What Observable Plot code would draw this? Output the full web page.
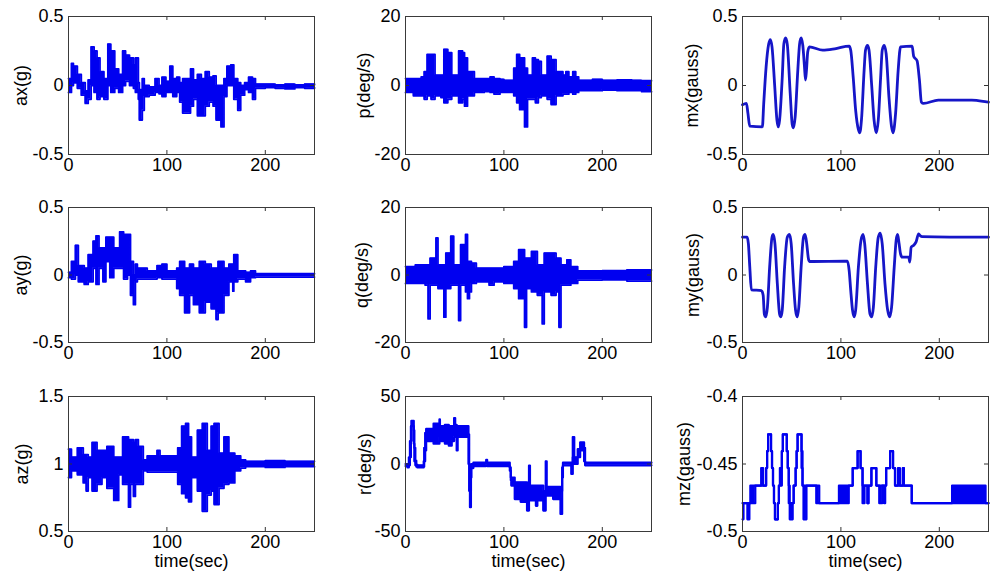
<!DOCTYPE html>
<html><head><meta charset="utf-8">
<script src="https://cdn.jsdelivr.net/npm/d3@7"></script>
<script src="https://cdn.jsdelivr.net/npm/@observablehq/plot@0.6"></script>
<style>
html,body{margin:0;padding:0;background:#fff;}
#fig{position:relative;width:1000px;height:579px;overflow:hidden;background:#fff;}
.panel{position:absolute;}
</style></head><body><div id="fig"></div>
<script>
// time axis
const xDomain = [0, 250];
const xTicks = [0, 100, 200];

// noisy signals: [time start (s), upper envelope, lower envelope]
const axData = [[0,0.05,-0.05],[3,0.16,0.0],[5,0.14,0.02],[9,0.08,-0.02],[13,0.02,-0.07],[17,-0.04,-0.13],[20,0.04,-0.1],[23,0.28,0.0],[26,0.25,-0.05],[29,0.2,-0.1],[32,0.1,-0.08],[36,0.05,-0.1],[40,0.3,0.0],[43,0.25,-0.05],[47,0.12,-0.02],[51,0.08,-0.05],[55,0.25,0.0],[58,0.22,0.03],[62,0.2,0.0],[66,0.15,-0.02],[68,0.2,-0.05],[71,0.02,-0.1],[72,-0.03,-0.25],[75,0.05,-0.18],[77,0.0,-0.08],[82,-0.01,-0.07],[88,0.05,-0.05],[92,0.0,-0.06],[95,0.06,-0.08],[99,0.03,-0.05],[103,0.14,-0.05],[106,0.05,-0.08],[110,0.06,-0.05],[113,0.02,-0.12],[116,0.05,-0.2],[120,0.05,-0.2],[124,0.12,-0.15],[127,0.04,-0.1],[131,0.08,-0.22],[135,0.05,-0.22],[139,0.1,-0.15],[143,0.06,-0.12],[147,0.07,-0.15],[150,0.0,-0.25],[155,0.0,-0.3],[158,0.05,-0.08],[161,0.14,0.0],[165,0.15,0.0],[168,0.05,-0.1],[172,0.02,-0.18],[175,0.0,-0.07],[179,0.02,-0.03],[183,0.06,-0.05],[187,0.05,-0.1],[190,0.01,-0.02],[200,0.01,-0.015],[210,0.005,-0.02],[220,0.01,-0.025],[230,0.005,-0.015],[240,0.01,-0.02],[250,0.005,-0.015]];

const pData = [[0,2,-2],[8,2,-3],[16,2.5,-3],[19,4,-4],[22,9,-3],[26,9,-4],[30,3,-3],[36,3,-3.5],[39,10.5,-5],[43,9.5,-4],[47,3,-3],[54,10,-5],[58,9.5,-4],[60,8,-6],[63,4,-3],[70,2,-2],[80,2,-1.8],[86,2.5,-2],[90,2,-2.5],[96,1.8,-2],[100,1.5,-2],[110,5,-3],[113,9,-5],[116,8,-7],[121,5,-12],[124,3,-4],[129,8,-4],[132,7.5,-5],[135,7,-3.5],[138,3,-3],[144,8.5,-4],[148,7.5,-5.5],[153,4,-3],[160,3,-2.5],[163,4,-2.5],[166,2.5,-2],[170,4,-2.5],[173,2.5,-2],[176,1.5,-1.5],[190,1.8,-1.5],[200,1.5,-1.3],[215,1.6,-1.5],[230,1.5,-1.5],[240,1.4,-1.8],[250,1.4,-1.8]];

const ayData = [[0,0.02,-0.02],[3,0.1,-0.03],[7,0.22,0.0],[10,0.07,-0.05],[16,0.05,-0.07],[20,0.15,-0.05],[25,0.25,0.05],[28,0.29,-0.07],[31,0.2,0.05],[35,0.2,-0.05],[38,0.28,0.1],[42,0.28,-0.02],[46,0.2,0.05],[52,0.32,0.05],[56,0.3,-0.03],[60,0.3,0.0],[63,0.1,-0.15],[66,0.0,-0.22],[68,0.08,-0.05],[70,0.05,-0.03],[80,0.03,-0.03],[90,0.07,-0.02],[95,0.08,-0.03],[100,0.03,-0.03],[110,0.05,-0.1],[113,0.1,-0.15],[118,0.05,-0.28],[123,0.08,-0.15],[127,0.05,-0.22],[133,0.1,-0.28],[139,0.08,-0.2],[145,0.05,-0.25],[150,0.05,-0.33],[152,0.1,-0.28],[158,0.05,-0.15],[163,0.08,-0.05],[167,0.08,-0.12],[168,0.15,-0.05],[172,0.03,-0.03],[180,0.02,-0.05],[185,0.03,-0.02],[190,0.01,-0.015],[250,0.01,-0.015]];

const qData = [[0,2.5,-2.5],[10,3,-2.5],[20,3,-3],[23,3,-13],[25,5,-3],[31,11,-3],[33,3,-4],[39,3,-12.5],[41,6.5,-4],[46,11.5,-3],[49,3,-3],[54,3,-13.5],[56,9,-3],[61,12,-5],[63,4,-7],[65,4,-5],[67,3.5,-2.5],[72,2,-2],[85,2,-3],[90,2,-2],[100,2.5,-2.5],[110,4,-4],[115,7.5,-7],[121,5,-15.5],[123,5,-4],[128,7,-5],[134,3,-6],[139,3,-14.5],[141,6.5,-5],[148,6.5,-6],[153,5,-5],[156,5,-15.5],[158,3,-3],[164,4.5,-3],[168,2.5,-2.5],[175,1.2,-1.5],[200,1.3,-1.4],[225,1.5,-1.8],[250,1.5,-1.8]];

const azData = [[0,1.11,0.9],[3,1.05,0.95],[9,1.12,0.92],[15,1.07,0.86],[18,1.07,0.8],[20,1.05,0.9],[24,1.16,0.8],[29,1.1,0.85],[34,1.1,0.9],[39,1.13,0.82],[46,1.05,0.73],[51,1.05,0.92],[55,1.2,0.85],[61,1.18,0.68],[63,1.18,0.85],[66,1.16,0.76],[68,1.18,0.85],[71,1.13,0.85],[76,1.03,0.95],[80,1.06,0.94],[90,1.1,0.94],[93,1.06,0.94],[111,1.12,0.85],[115,1.28,0.78],[119,1.3,0.75],[122,1.2,0.72],[125,1.05,0.9],[131,1.25,0.8],[136,1.3,0.65],[141,1.1,0.77],[145,1.28,0.8],[148,1.3,0.7],[153,1.08,0.82],[158,1.2,0.85],[163,1.08,0.86],[169,1.06,0.95],[175,1.03,0.97],[180,1.02,0.98],[200,1.025,0.975],[220,1.02,0.98],[250,1.02,0.98]];

const rData = [[0,0,-1.5],[2,0,-2.5],[3.4,5,-1],[4.5,17,5],[5.5,28,17],[6,32,28],[8.4,25,15],[9,12,2],[10,2.5,-1],[11,-0.5,-2],[12,-1,-2.5],[18.5,2,-2],[19,12,2],[20,23,10],[21,26,17],[28.5,30,15],[34.5,33,20],[35,28,17],[40,29,15],[44,28,13.6],[47,28,17],[49.4,34,20],[50.5,29,20],[52,28,10],[53,28,20],[64,22,0],[64.7,0,-20],[65.5,-20,-32],[66.5,-2.5,-10],[67,0,-3],[69,1,-1.5],[82,3,-1],[83,1,-1.5],[106,-2.5,-5],[107,-10,-12],[107.5,-10,-16],[111,-13.5,-26],[117,-13.5,-28],[123.5,-20,-34.5],[125.5,-1.2,-20],[126.5,-16,-27],[132.5,-16,-31],[134,-16,-27],[140,-20,-34.5],[142.5,2,-20],[143.5,-17,-23.5],[150,-17,-26],[157.5,-20,-37],[159.2,-2.5,-10],[160,1,-1],[168.5,0,-7.4],[170,20,5],[171.5,5,0],[173,5,0],[175,11,5],[177.5,16,10],[181.5,12,2],[182.5,1,-1],[250,1,-1]];

const mzData = [[0,-0.479,-0.491],[1,-0.479,-0.479],[5,-0.479,-0.491],[7,-0.479,-0.479],[8,-0.466,-0.479],[13,-0.466,-0.466],[19,-0.453,-0.466],[21,-0.466,-0.466],[24,-0.453,-0.453],[25,-0.4405,-0.4405],[26,-0.428,-0.428],[29,-0.4405,-0.4405],[30,-0.453,-0.453],[31,-0.466,-0.466],[32,-0.479,-0.479],[33,-0.491,-0.491],[36,-0.479,-0.479],[37,-0.466,-0.466],[38,-0.453,-0.466],[40,-0.4405,-0.4405],[41,-0.428,-0.428],[45,-0.4405,-0.4405],[46,-0.453,-0.453],[47,-0.466,-0.479],[48,-0.479,-0.491],[51,-0.479,-0.479],[52,-0.466,-0.466],[54,-0.453,-0.453],[55,-0.4405,-0.4405],[56,-0.428,-0.428],[60,-0.4405,-0.453],[61,-0.466,-0.466],[62,-0.466,-0.491],[65,-0.466,-0.466],[75,-0.466,-0.479],[78,-0.479,-0.479],[98,-0.466,-0.479],[108,-0.466,-0.466],[112,-0.453,-0.453],[117,-0.4405,-0.4405],[120,-0.453,-0.453],[122,-0.466,-0.479],[124,-0.466,-0.466],[127,-0.479,-0.479],[128,-0.466,-0.466],[131,-0.453,-0.453],[136,-0.466,-0.466],[139,-0.466,-0.479],[142,-0.466,-0.466],[144,-0.466,-0.479],[145,-0.466,-0.466],[146,-0.453,-0.453],[150,-0.4405,-0.4405],[153,-0.453,-0.453],[155,-0.466,-0.466],[158,-0.453,-0.466],[160,-0.466,-0.466],[163,-0.453,-0.453],[164,-0.466,-0.466],[172,-0.479,-0.479],[213,-0.466,-0.479],[247,-0.479,-0.479],[250,-0.479,-0.479]];

// smooth magnetometer signals: [time (s), value]
const mxData = [[0,-0.14],[4,-0.13],[5.5,-0.2],[7.4,-0.295],[20.2,-0.3],[21.5,-0.14],[24,0.135],[26.6,0.3],[28.3,0.333],[30,0.28],[32.7,0.0],[35,-0.25],[36.4,-0.3],[37.7,-0.25],[40.4,0.06],[42,0.3],[43.8,0.345],[45.5,0.3],[48.5,-0.06],[50.5,-0.28],[51.9,-0.307],[53.5,-0.23],[56.2,0.11],[58,0.3],[59.6,0.345],[61.3,0.29],[63,0.135],[64,0.04],[65,0.11],[66.3,0.244],[68,0.28],[81.5,0.256],[95,0.268],[108.4,0.285],[110,0.256],[112.5,0.06],[115,-0.18],[117.8,-0.32],[119.2,-0.343],[120.9,-0.25],[123.6,0.11],[125,0.256],[127,0.29],[128.6,0.256],[131.3,0.0],[133.7,-0.25],[136,-0.343],[138,-0.25],[140.4,0.06],[142,0.256],[144,0.29],[146,0.23],[148.8,-0.08],[151.5,-0.3],[153,-0.343],[155.6,-0.2],[158.2,0.11],[160.6,0.28],[172.4,0.285],[174,0.21],[177.4,0.18],[179.8,0.04],[181.8,-0.12],[184,-0.13],[199,-0.106],[233,-0.106],[248,-0.118],[250,-0.12]];

const myData = [[0,0.28],[4.7,0.28],[6,0.23],[7.4,0.06],[9,-0.11],[19.2,-0.115],[21,-0.15],[22.2,-0.29],[23.6,-0.31],[25.3,-0.24],[27.6,0.06],[30,0.28],[31.3,0.3],[33,0.23],[35.4,-0.065],[37.7,-0.29],[39,-0.31],[40.4,-0.26],[42.8,0.06],[45.5,0.28],[47.8,0.3],[49.5,0.23],[51.9,-0.065],[53.9,-0.26],[55.6,-0.31],[57.2,-0.24],[59.6,0.06],[62,0.28],[63.6,0.3],[65.3,0.23],[67,0.12],[68,0.1],[106.7,0.102],[108.4,0.033],[110,-0.115],[111.8,-0.26],[113.5,-0.31],[115,-0.26],[117.8,0.06],[120.5,0.26],[122.6,0.3],[124.2,0.23],[127,-0.065],[129.6,-0.29],[131.3,-0.31],[133,-0.24],[135.4,0.06],[138,0.28],[140,0.31],[142,0.23],[144.8,-0.065],[147.5,-0.26],[149.5,-0.31],[151.5,-0.24],[154.2,0.06],[156.2,0.26],[157.6,0.3],[159,0.24],[160.6,0.157],[162.3,0.132],[169,0.132],[170,0.095],[171.4,0.206],[174,0.22],[176.4,0.245],[179,0.305],[180.8,0.29],[182.5,0.285],[250,0.28]];

// axis labels and y ticks
const yLabels = ["ax(g)", "p(deg/s)", "mx(gauss)", "ay(g)", "q(deg/s)", "my(gauss)", "az(g)", "r(deg/s)", "mz(gauss)"];
const yDomains = [[-0.5,0.5],[-20,20],[-0.5,0.5],[-0.5,0.5],[-20,20],[-0.5,0.5],[0.5,1.5],[-50,50],[-0.5,-0.4]];
const yTickSets = [[-0.5,0,0.5],[-20,0,20],[-0.5,0,0.5],[-0.5,0,0.5],[-20,0,20],[-0.5,0,0.5],[0.5,1,1.5],[-50,0,50],[-0.5,-0.45,-0.4]];
const xLabel = "time(sec)";

// layout (pixels)
const colLeft = [68, 405, 742];
const rowTop = [16, 207, 396];
const rowH = [138, 135, 135];
const plotW = 246;
const labelDx = [-47, -41, -50, -47, -43, -49, -46, -40, -58];

const series = [
  {data: axData, kind: "band"}, {data: pData, kind: "band"}, {data: mxData, kind: "line"},
  {data: ayData, kind: "band"}, {data: qData, kind: "band"}, {data: myData, kind: "line"},
  {data: azData, kind: "band"}, {data: rData, kind: "band"}, {data: mzData, kind: "band"}
];

const BLUE = "#0000f0";
const fig = document.getElementById("fig");

series.forEach((s, i) => {
  const row = Math.floor(i / 3), col = i % 3;
  const mL = 68, mR = 12, mT = 16, mB = row === 2 ? 50 : 36;
  const h = rowH[row];
  const ticks = yTickSets[i];
  let dataMarks;
  if (s.kind === "band") {
    const rows = s.data.map(([t, hi, lo]) => ({t, hi, lo}));
    const sw = (i === 7 || i === 8) ? 2.2 : 1.8;
    dataMarks = [
      Plot.areaY(rows, {x: "t", y1: "lo", y2: "hi", curve: "step-after", fill: BLUE}),
      Plot.lineY(rows, {x: "t", y: "hi", curve: "step-after", stroke: BLUE, strokeWidth: sw}),
      Plot.lineY(rows, {x: "t", y: "lo", curve: "step-after", stroke: BLUE, strokeWidth: sw})
    ];
  } else {
    const rows = s.data.map(([t, v]) => ({t, v}));
    dataMarks = [
      Plot.lineY(rows, {x: "t", y: "v", curve: "monotone-x", stroke: "#1616c8", strokeWidth: 2.8})
    ];
  }
  const marks = [
    ...dataMarks,
    Plot.tickY(ticks, {y: d => d, stroke: "#333", insetRight: plotW - 4}),
    Plot.tickY(ticks, {y: d => d, stroke: "#333", insetLeft: plotW - 4}),
    Plot.tickX(xTicks, {x: d => d, stroke: "#333", insetTop: h - 4}),
    Plot.tickX(xTicks, {x: d => d, stroke: "#333", insetBottom: h - 4}),
    Plot.frame({stroke: "#3a3a3a", strokeWidth: 1}),
    Plot.axisY(ticks, {tickSize: 0, tickPadding: 5, tickFormat: d => String(d), label: null, fill: "#000"}),
    Plot.axisX(xTicks, {tickSize: 0, tickPadding: 4, tickFormat: d => String(d), label: null, fill: "#000"}),
    Plot.text([yLabels[i]], {frameAnchor: "left", dx: labelDx[i], rotate: -90, text: d => d, textAnchor: "middle", lineAnchor: "middle", fill: "#000"})
  ];
  if (row === 2) {
    marks.push(Plot.text([xLabel], {frameAnchor: "bottom", dy: 30, text: d => d, textAnchor: "middle", lineAnchor: "middle", fill: "#000"}));
  }
  const chart = Plot.plot({
    width: mL + plotW + mR,
    height: mT + h + mB,
    marginLeft: mL, marginRight: mR, marginTop: mT, marginBottom: mB,
    x: {domain: xDomain},
    y: {domain: yDomains[i]},
    style: {fontFamily: "'Liberation Sans', Arial, sans-serif", fontSize: "18px", background: "transparent", overflow: "visible", color: "#000"},
    marks
  });
  const div = document.createElement("div");
  div.className = "panel";
  div.style.left = (colLeft[col] - mL) + "px";
  div.style.top = (rowTop[row] - mT) + "px";
  div.appendChild(chart);
  fig.appendChild(div);
});
</script>
</body></html>
